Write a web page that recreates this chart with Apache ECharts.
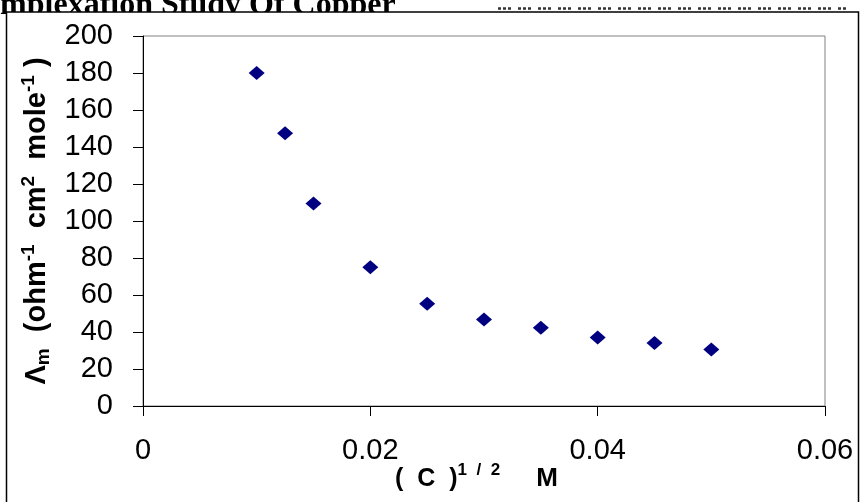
<!DOCTYPE html>
<html>
<head>
<meta charset="utf-8">
<script src="https://cdn.jsdelivr.net/npm/echarts@6/dist/echarts.min.js"></script>
<style>
  html, body { margin: 0; padding: 0; background: #fff; }
  #chart { width: 863px; height: 502px; }
</style>
</head>
<body>
<div id="chart"></div>
<script>
// ---------------------------------------------------------------------------
// Data: molar conductance vs sqrt(concentration)
// ---------------------------------------------------------------------------
const sqrtConc = [0.01, 0.0125, 0.015, 0.02, 0.025, 0.03, 0.035, 0.04, 0.045, 0.05];
const molarCond = [180, 147.5, 109.5, 75, 55.3, 46.7, 42.3, 37, 34, 30.6];

const xTicks = { min: 0, max: 0.06, interval: 0.02 };
const yTicks = { min: 0, max: 200, interval: 20 };

const pageTitle = 'Complexation Study Of Copper';

const LABEL_FONT = 'Liberation Sans, Arial, sans-serif';

const chart = echarts.init(document.getElementById('chart'), null, { renderer: 'canvas' });

chart.setOption({
  backgroundColor: '#ffffff',
  animation: false,

  // Page leftovers around the chart object: clipped heading, dotted rule, frame
  graphic: [
    {
      type: 'text',
      z: 1,
      style: {
        text: pageTitle,
        x: -39,
        y: 22,
        verticalAlign: 'bottom',
        font: 'bold 32px "Liberation Serif", "Times New Roman", serif',
        fill: '#000',
      },
    },
    {
      type: 'line',
      z: 1,
      shape: { x1: 498, y1: 8.5, x2: 848, y2: 8.5 },
      style: { stroke: '#333', lineWidth: 2.5, lineDash: [3, 2, 3, 2, 3, 7] },
    },
    {
      // white chart-object box with black frame; hides the lower half of the heading
      type: 'rect',
      z: 2,
      shape: { x: 6.5, y: 12, width: 852, height: 520 },
      style: { fill: '#fff', stroke: '#000', lineWidth: 1.5 },
    },
  ],

  grid: {
    left: 143,
    right: 38,
    top: 36,
    bottom: 96,
    // v6 otherwise shrinks the grid to keep the axis names inside the canvas
    outerBoundsMode: 'none',
    containLabel: false,
    show: true,
    z: 10,
    backgroundColor: 'transparent',
    borderColor: '#808080',
    borderWidth: 1,
  },

  xAxis: {
    type: 'value',
    z: 11,
    min: xTicks.min,
    max: xTicks.max,
    interval: xTicks.interval,
    splitLine: { show: false },
    axisLine: { show: true, lineStyle: { color: '#000', width: 1 } },
    axisTick: { show: true, length: 10, lineStyle: { color: '#000' } },
    axisLabel: {
      margin: 30,
      color: '#000',
      fontSize: 29,
      fontFamily: LABEL_FONT,
    },
    name: '(  C  ){sup|1  /  2}{m|     M}',
    nameLocation: 'middle',
    nameGap: 56,
    // the reference name sits tucked between the tick labels
    nameMoveOverlap: false,
    nameTextStyle: {
      color: '#000',
      fontSize: 25,
      fontWeight: 'bold',
      fontFamily: LABEL_FONT,
      lineHeight: 34,
      padding: [0, 15, 0, 0],
      rich: {
        sup: { fontSize: 17, fontWeight: 'bold', fontFamily: LABEL_FONT, verticalAlign: 'top', lineHeight: 10, color: '#000' },
        m: { fontSize: 26, fontWeight: 'bold', fontFamily: LABEL_FONT, lineHeight: 34, color: '#000' },
      },
    },
  },

  yAxis: {
    type: 'value',
    z: 11,
    min: yTicks.min,
    max: yTicks.max,
    interval: yTicks.interval,
    splitLine: { show: false },
    axisLine: { show: true, lineStyle: { color: '#000', width: 1 } },
    axisTick: { show: true, length: 10, lineStyle: { color: '#000' } },
    axisLabel: {
      margin: 30,
      color: '#000',
      fontSize: 29,
      fontFamily: LABEL_FONT,
    },
    name: 'Λ{sub|m}  (ohm{sup|-1}  cm{sup|2}  mole{sup|-1} )',
    nameLocation: 'middle',
    nameGap: 83,
    nameTextStyle: {
      color: '#000',
      fontSize: 29,
      fontWeight: 'bold',
      fontFamily: LABEL_FONT,
      lineHeight: 34,
      rich: {
        sub: { fontSize: 19, fontWeight: 'bold', fontFamily: LABEL_FONT, verticalAlign: 'bottom', lineHeight: 14, color: '#000' },
        sup: { fontSize: 19, fontWeight: 'bold', fontFamily: LABEL_FONT, verticalAlign: 'top', lineHeight: 12, color: '#000' },
      },
    },
  },

  series: [
    {
      type: 'scatter',
      z: 12,
      symbol: 'diamond',
      symbolSize: [16, 14],
      itemStyle: { color: '#000080', opacity: 1 },
      data: sqrtConc.map((x, i) => [x, molarCond[i]]),
    },
  ],
});
</script>
</body>
</html>
